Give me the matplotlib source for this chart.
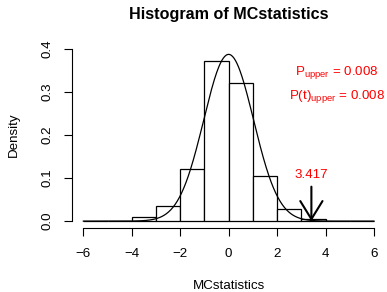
import numpy as np
import matplotlib
matplotlib.use("Agg")
import matplotlib.pyplot as plt

plt.rcParams['font.family'] = ['Liberation Sans', 'DejaVu Sans']
plt.rcParams['mathtext.fontset'] = 'custom'
plt.rcParams['mathtext.rm'] = 'Liberation Sans'
plt.rcParams['mathtext.it'] = 'Liberation Sans'

# histogram of the Monte Carlo statistics (density scale)
bin_edges = [-6, -5, -4, -3, -2, -1, 0, 1, 2, 3, 4, 5, 6]
densities = [0.0, 0.0, 0.010, 0.036, 0.122, 0.371, 0.322, 0.105, 0.027, 0.006, 0.0, 0.0]

# fitted density curve
fit_mean = 0.0
fit_sd = 1.03

observed = 3.417
arrow_top = 0.08
p_upper = 0.008
p_t_upper = 0.008

xticks = [-6, -4, -2, 0, 2, 4, 6]
yticks = [0.0, 0.1, 0.2, 0.3, 0.4]

fs = 9.6

fig = plt.figure(figsize=(3.87, 2.92), dpi=100)
ax = fig.add_axes([0.1853, 0.218, 0.811, 0.669])

lefts = np.array(bin_edges[:-1])
widths = np.diff(bin_edges)
ax.bar(lefts, densities, width=widths, align='edge', facecolor='white',
       edgecolor='black', linewidth=0.9)

xs = np.linspace(bin_edges[0], bin_edges[-1], 400)
ys = np.exp(-0.5 * ((xs - fit_mean) / fit_sd) ** 2) / (fit_sd * np.sqrt(2 * np.pi))
ax.plot(xs, ys, color='black', linewidth=0.9)

ax.annotate('', xy=(observed, 0), xytext=(observed, arrow_top),
            arrowprops=dict(arrowstyle='->,head_length=1.3,head_width=0.8',
                            mutation_scale=10, color='black', lw=1.5,
                            shrinkA=0, shrinkB=0))
ax.text(observed, 0.0993, f'{observed:.3f}', color='red', ha='center',
        va='baseline', fontsize=fs)
ax.text(4.47, 0.339, r'$\mathregular{P_{upper}}$' + f' = {p_upper:.3f}',
        color='red', ha='center', va='baseline', fontsize=fs)
ax.text(4.47, 0.285, r'$\mathregular{P(t)_{upper}}$' + f' = {p_t_upper:.3f}',
        color='red', ha='center', va='baseline', fontsize=fs)

ax.set_xlim(-6.48, 6.48)
ax.set_ylim(-0.0168, 0.437)
for s in ['top', 'right']:
    ax.spines[s].set_visible(False)
ax.spines['left'].set_bounds(0, 0.4)
ax.spines['bottom'].set_bounds(-6, 6)
ax.spines['left'].set_linewidth(0.8)
ax.spines['bottom'].set_linewidth(0.8)
ax.set_xticks(xticks)
ax.set_xticklabels([f'{t}'.replace('-', '\u2212') for t in xticks])
ax.set_yticks(yticks)
ax.set_yticklabels([f'{t:.1f}' for t in yticks], rotation=90, va='center')
ax.tick_params(axis='both', direction='out', length=5.8, width=0.8,
               labelsize=fs)
ax.tick_params(axis='x', pad=8.5)
ax.tick_params(axis='y', pad=7.0)

fig.text(228.6 / 387, 1 - 14 / 292, 'Histogram of MCstatistics', ha='center',
         va='center', fontsize=11.6, fontweight='bold')
fig.text(228.6 / 387, 1 - 286 / 292, 'MCstatistics', ha='center', va='center',
         fontsize=fs)
fig.text(14 / 387, 1 - 135 / 292, 'Density', ha='center', va='center',
         rotation=90, fontsize=fs)

fig.savefig('out.png', dpi=100)
